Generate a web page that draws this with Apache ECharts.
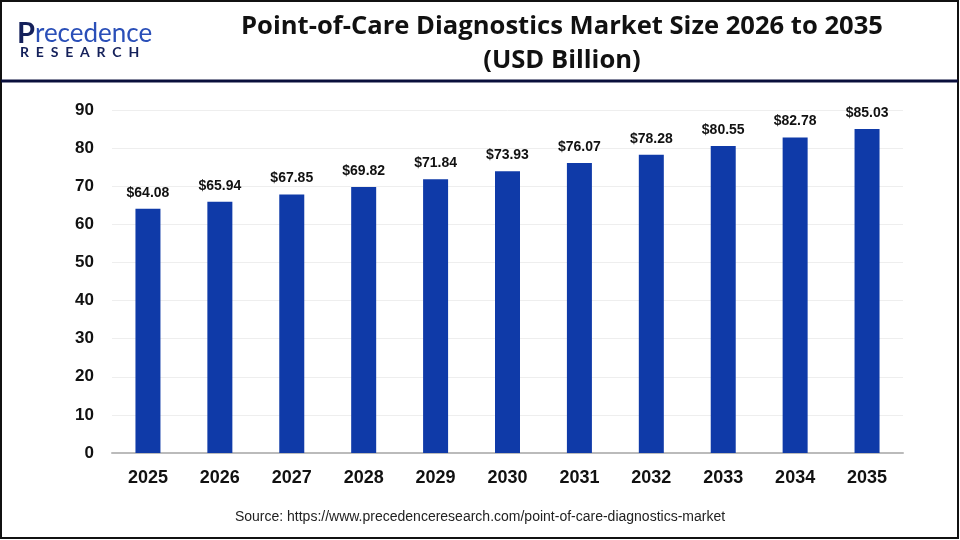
<!DOCTYPE html>
<html>
<head>
<meta charset="utf-8">
<script src="https://cdn.jsdelivr.net/npm/echarts@6/dist/echarts.min.js"></script>
<style>
  html, body { margin: 0; padding: 0; background: #fff; }
  #chart { width: 960px; height: 540px; }
</style>
</head>
<body>
<div id="chart"></div>
<script>
var years = ['2025', '2026', '2027', '2028', '2029', '2030', '2031', '2032', '2033', '2034', '2035'];
var marketSize = [64.08, 65.94, 67.85, 69.82, 71.84, 73.93, 76.07, 78.28, 80.55, 82.78, 85.03];
var titleText = 'Point-of-Care Diagnostics Market Size 2026 to 2035\n(USD Billion)';
var sourceText = 'Source: https://www.precedenceresearch.com/point-of-care-diagnostics-market';

var chart = echarts.init(document.getElementById('chart'));

var option = {
  animation: false,
  textStyle: { fontFamily: 'Liberation Sans, Arial, sans-serif' },
  title: {
    text: titleText,
    left: 557,
    top: 5,
    textAlign: 'center',
    textStyle: {
      fontSize: 25.6,
      fontWeight: 'bold',
      fontFamily: 'Open Sans, sans-serif',
      color: '#111',
      lineHeight: 34
    }
  },
  grid: {
    left: 112,
    right: 57,
    top: 110,
    bottom: 87
  },
  xAxis: {
    type: 'category',
    data: years,
    axisTick: { show: false },
    axisLine: { lineStyle: { color: '#bbb', width: 2 } },
    axisLabel: {
      fontSize: 18,
      fontWeight: 'bold',
      color: '#111',
      margin: 16
    }
  },
  yAxis: {
    type: 'value',
    min: 0,
    max: 90,
    interval: 10,
    axisLine: { show: false },
    axisTick: { show: false },
    axisLabel: {
      fontSize: 17,
      fontWeight: 'bold',
      color: '#111',
      margin: 18
    },
    splitLine: { lineStyle: { color: '#eee' } }
  },
  series: [
    {
      type: 'bar',
      data: marketSize,
      barWidth: 25,
      itemStyle: { color: '#0f3aa8' },
      label: {
        show: true,
        position: 'top',
        distance: 9,
        fontSize: 14,
        fontWeight: 'bold',
        color: '#111',
        formatter: function (p) { return '$' + p.value.toFixed(2); }
      }
    }
  ],
  graphic: [
    // frame
    {
      type: 'rect',
      shape: { x: 1, y: 1, width: 957, height: 537 },
      style: { fill: 'none', stroke: '#111', lineWidth: 2 },
      silent: true
    },
    // header separator
    {
      type: 'line',
      shape: { x1: 1, y1: 81, x2: 958, y2: 81 },
      style: { stroke: '#0a0f3c', lineWidth: 3 }
    },
    // logo
    {
      type: 'text',
      left: 17,
      top: 19,
      style: {
        text: '{p|P}{r|recedence}',
        rich: {
          p: { fontSize: 29, fontWeight: 'bold', fill: '#14205a', fontFamily: 'Lato, sans-serif' },
          r: { fontSize: 26, fill: '#2a4fb8', fontFamily: 'Lato, sans-serif' }
        }
      }
    },
    {
      type: 'text',
      left: 20,
      top: 45,
      style: {
        text: 'R  E  S  E  A  R  C  H',
        fontSize: 14,
        fontWeight: 'bold',
        fill: '#14205a',
        fontFamily: 'Lato, sans-serif'
      }
    },
    // source
    {
      type: 'text',
      left: 'center',
      top: 510,
      style: {
        text: sourceText,
        fontSize: 14,
        fill: '#222',
        fontFamily: 'Liberation Sans, Arial, sans-serif'
      }
    }
  ]
};

chart.setOption(option);
</script>
</body>
</html>
